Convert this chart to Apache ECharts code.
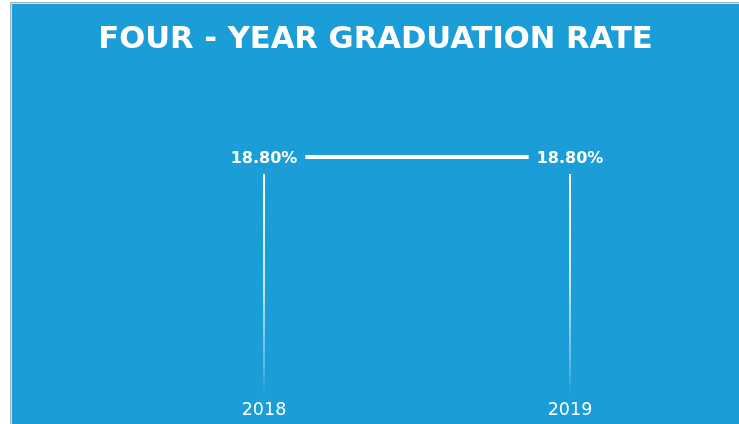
<!DOCTYPE html>
<html>
<head>
<meta charset="utf-8">
<script src="https://cdn.jsdelivr.net/npm/echarts@6/dist/echarts.min.js"></script>
<style>
  html, body { margin: 0; padding: 0; background: #fff; }
  .frame { position: absolute; left: 10px; top: 2px; border-left: 1px solid #9fb3bd; border-top: 1px solid #9fb3bd; }
  #chart { width: 727px; height: 420px; border-left: 1px solid #c4e4f3; border-top: 1px solid #c4e4f3; background: #1b9dd7; }
</style>
</head>
<body>
<div class="frame"><div id="chart"></div></div>
<script>
const years = ['2018', '2019'];
const rates = [18.8, 18.8];

const chart = echarts.init(document.getElementById('chart'));
chart.setOption({
  backgroundColor: '#1b9dd7',
  animation: false,
  title: {
    text: 'FOUR - YEAR GRADUATION RATE',
    left: 'center',
    top: 16,
    textStyle: { color: '#fff', fontSize: 30.6, fontWeight: 'bold', fontFamily: 'DejaVu Sans' }
  },
  grid: { left: 99, right: 16, top: 153, bottom: 29 },
  xAxis: {
    type: 'category',
    data: years,
    axisLine: { show: false },
    axisTick: { show: false },
    axisLabel: { color: '#fff', fontSize: 17.5, fontFamily: 'DejaVu Sans', margin: 6 }
  },
  yAxis: [
    { type: 'value', min: 0, max: 20.25, show: false, splitLine: { show: false } },
    { type: 'value', min: 0, max: 18.8, show: false, splitLine: { show: false } }
  ],
  series: [
    {
      // thin fading stems
      type: 'bar',
      yAxisIndex: 0,
      data: rates,
      barWidth: 2,
      itemStyle: {
        color: new echarts.graphic.LinearGradient(0, 0, 0, 1, [
          { offset: 0, color: 'rgba(255,255,255,1)' },
          { offset: 0.5, color: 'rgba(255,255,255,0.75)' },
          { offset: 0.85, color: 'rgba(255,255,255,0.3)' },
          { offset: 1, color: 'rgba(255,255,255,0)' }
        ])
      }
    },
    {
      type: 'line',
      yAxisIndex: 1,
      data: rates,
      symbol: 'circle',
      symbolSize: 1,
      lineStyle: { color: '#fff', width: 4 },
      itemStyle: { color: '#fff' },
      label: {
        show: true,
        position: 'inside',
        offset: [0, 1.5],
        formatter: p => p.value.toFixed(2) + '%',
        color: '#fff',
        fontSize: 16,
        fontWeight: 'bold',
        fontFamily: 'DejaVu Sans',
        backgroundColor: '#1b9dd7',
        padding: [0, 8]
      }
    }
  ]
});
</script>
</body>
</html>
